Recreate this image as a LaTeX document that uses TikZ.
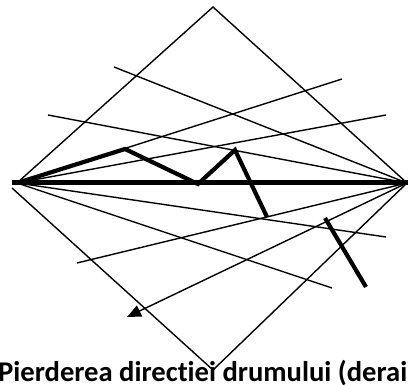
\documentclass[tikz,border=0pt]{standalone}
\usepackage{fontspec}
\setmainfont[Ligatures={NoCommon}]{Carlito}
\usetikzlibrary{arrows.meta}
\begin{document}
\begin{tikzpicture}[x=1pt,y=-1pt,
  thin line/.style={line width=1.4pt},
  thick line/.style={line width=4.2pt},
  base line/.style={line width=5pt}]
\useasboundingbox (0,0) rectangle (408,385);
\clip (0,0) rectangle (408,385);
% corners
\coordinate (T) at (213,7);
\coordinate (R) at (407,183);
\coordinate (B) at (213,370);
\coordinate (L) at (17,183);
\coordinate (Ll) at (12,188);
% diamond
\draw[thin line] (L) -- (T) -- (R) -- (B) -- (Ll);
% baseline
\draw[base line] (12,183) -- (408,183);
% thin lines
\coordinate (a) at (114,67);
\coordinate (b) at (48,115);
\coordinate (c) at (342,79);
\coordinate (d) at (386,115);
\coordinate (e) at (386,237);
\coordinate (f) at (332,288);
\coordinate (g) at (77,263);
\coordinate (h) at (127,317);
\draw[thin line] (a) -- (R);
\draw[thin line] (b) -- (R);
\draw[thin line] (L) -- (c);
\draw[thin line] (L) -- (d);
\draw[thin line] (L) -- (e);
\draw[thin line] (L) -- (f);
\draw[thin line] (R) -- (g);
\draw[thin line,-{Triangle[length=14pt,width=12pt]}] (R) -- (h);
% thick path
\coordinate (p1) at (125,149);
\coordinate (p2) at (198,184);
\coordinate (p3) at (235,150);
\coordinate (p4) at (267,217);
\draw[thick line] (L) -- (p1) -- (p2) -- (p3) -- (p4);
\coordinate (q1) at (325,218);
\coordinate (q2) at (366,287);
\draw[thick line] (q1) -- (q2);
% caption
\node[anchor=base west,inner sep=0pt,font=\fontsize{28.6}{31}\selectfont\bfseries] (cap) at (-2,382) {Pierderea directiei drumului (deraiere)};
\end{tikzpicture}
\end{document}
